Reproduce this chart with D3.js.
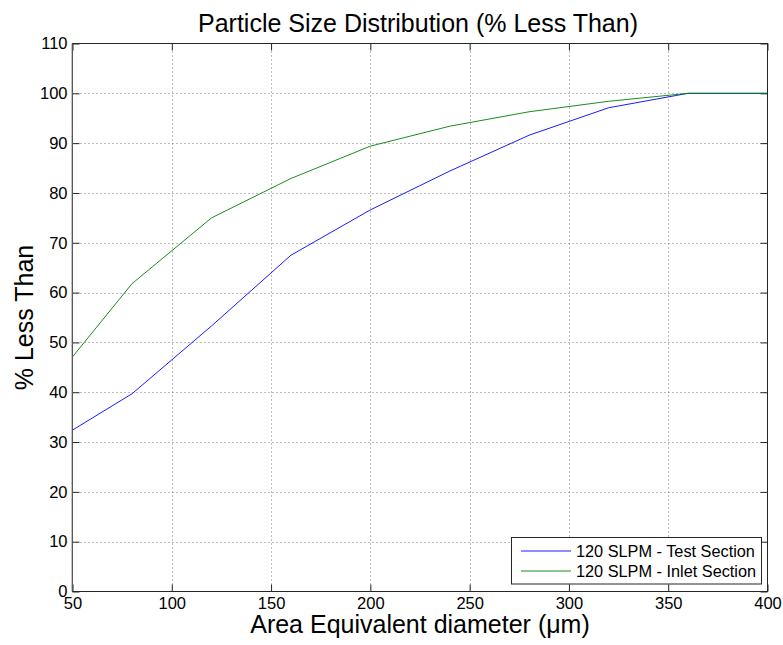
<!DOCTYPE html>
<html>
<head>
<meta charset="utf-8">
<script src="https://cdn.jsdelivr.net/npm/d3@7"></script>
<style>
  body { margin: 0; background: #fff; }
  svg { display: block; font-family: Arial, "Liberation Sans", sans-serif; }
</style>
</head>
<body>
<svg id="chart" width="783" height="645"></svg>
<script>
const diameters = [50, 80, 120, 160, 200, 240, 280, 320, 360, 400];
const testSection = [32.4, 39.7, 53.3, 67.5, 76.6, 84.4, 91.6, 97.1, 100, 100];
const inletSection = [47.1, 61.8, 75.0, 82.9, 89.4, 93.4, 96.3, 98.4, 100, 100];
const seriesNames = ["120 SLPM - Test Section", "120 SLPM - Inlet Section"];
const seriesColors = ["#0000ff", "#008000"];
const xTicks = [50, 100, 150, 200, 250, 300, 350, 400];
const yTicks = [0, 10, 20, 30, 40, 50, 60, 70, 80, 90, 100, 110];

const svg = d3.select("#chart");
const L = 72.5, R = 767.5, T = 43.5, B = 591.5;
const x = d3.scaleLinear().domain([50, 400]).range([L, R]);
const y = d3.scaleLinear().domain([0, 110]).range([B, T]);

// grid
const grid = svg.append("g");
xTicks.slice(1, -1).forEach(v => {
  grid.append("line").attr("x1", Math.round(x(v)) + 0.5).attr("x2", Math.round(x(v)) + 0.5)
    .attr("y1", T).attr("y2", B).attr("stroke", "#7a7a7a").attr("stroke-width", 1)
    .attr("stroke-dasharray", "1,3");
});
yTicks.slice(1, -1).forEach(v => {
  grid.append("line").attr("y1", Math.round(y(v)) + 0.5).attr("y2", Math.round(y(v)) + 0.5)
    .attr("x1", L).attr("x2", R).attr("stroke", "#7a7a7a").attr("stroke-width", 1)
    .attr("stroke-dasharray", "1,3");
});

// axes with inward ticks
const tickLen = 7;
const xAxisB = d3.axisBottom(x).tickValues(xTicks).tickSize(-tickLen).tickPadding(6).tickFormat(d3.format("d"));
const xAxisT = d3.axisTop(x).tickValues(xTicks).tickSize(-tickLen).tickFormat("");
const yAxisL = d3.axisLeft(y).tickValues(yTicks).tickSize(-tickLen).tickPadding(5).tickFormat(d3.format("d"));
const yAxisR = d3.axisRight(y).tickValues(yTicks).tickSize(-tickLen).tickFormat("");

function style(g) {
  g.select(".domain").remove();
  g.selectAll(".tick line").attr("stroke", "#262626");
  g.selectAll(".tick text").attr("fill", "#000").style("font-size", "16.5px")
    .style("font-family", "Arial, 'Liberation Sans', sans-serif");
}
svg.append("g").attr("transform", `translate(0,${B})`).call(xAxisB).call(style);
svg.append("g").attr("transform", `translate(0,${T})`).call(xAxisT).call(style);
svg.append("g").attr("transform", `translate(${L},0)`).call(yAxisL).call(style);
svg.append("g").attr("transform", `translate(${R},0)`).call(yAxisR).call(style);

// lines
const line = d3.line().x((d, i) => x(diameters[i])).y(d => y(d));
[testSection, inletSection].forEach((s, k) => {
  svg.append("path").datum(s).attr("d", line).attr("fill", "none")
    .attr("stroke", seriesColors[k]).attr("stroke-width", 0.9);
});

// box
svg.append("rect").attr("x", L).attr("y", T).attr("width", R - L).attr("height", B - T)
  .attr("fill", "none").attr("stroke", "#262626").attr("stroke-width", 1);
svg.append("line").attr("x1", L - 0.5).attr("x2", L - 0.5).attr("y1", T).attr("y2", B)
  .attr("stroke", "#888").attr("stroke-width", 1);

// title & labels
svg.append("text").attr("x", 418).attr("y", 32).attr("text-anchor", "middle")
  .style("font-size", "25px").text("Particle Size Distribution (% Less Than)");
svg.append("text").attr("x", 420).attr("y", 633).attr("text-anchor", "middle")
  .style("font-size", "25px").text("Area Equivalent diameter (\u03BCm)");
svg.append("text").attr("transform", `translate(33,${(T + B) / 2}) rotate(-90)`)
  .attr("text-anchor", "middle").style("font-size", "25px").text("% Less Than");

// legend
const lg = svg.append("g");
lg.append("rect").attr("x", 511.5).attr("y", 537.5).attr("width", 250).attr("height", 46.5)
  .attr("fill", "#fff").attr("stroke", "#262626").attr("stroke-width", 1);
seriesNames.forEach((n, k) => {
  const yy = 551 + k * 20;
  lg.append("line").attr("x1", 521).attr("x2", 571).attr("y1", yy).attr("y2", yy)
    .attr("stroke", seriesColors[k]).attr("stroke-width", 0.9);
  lg.append("text").attr("x", 576).attr("y", yy + 6).style("font-size", "16.3px").text(n);
});
</script>
</body>
</html>
